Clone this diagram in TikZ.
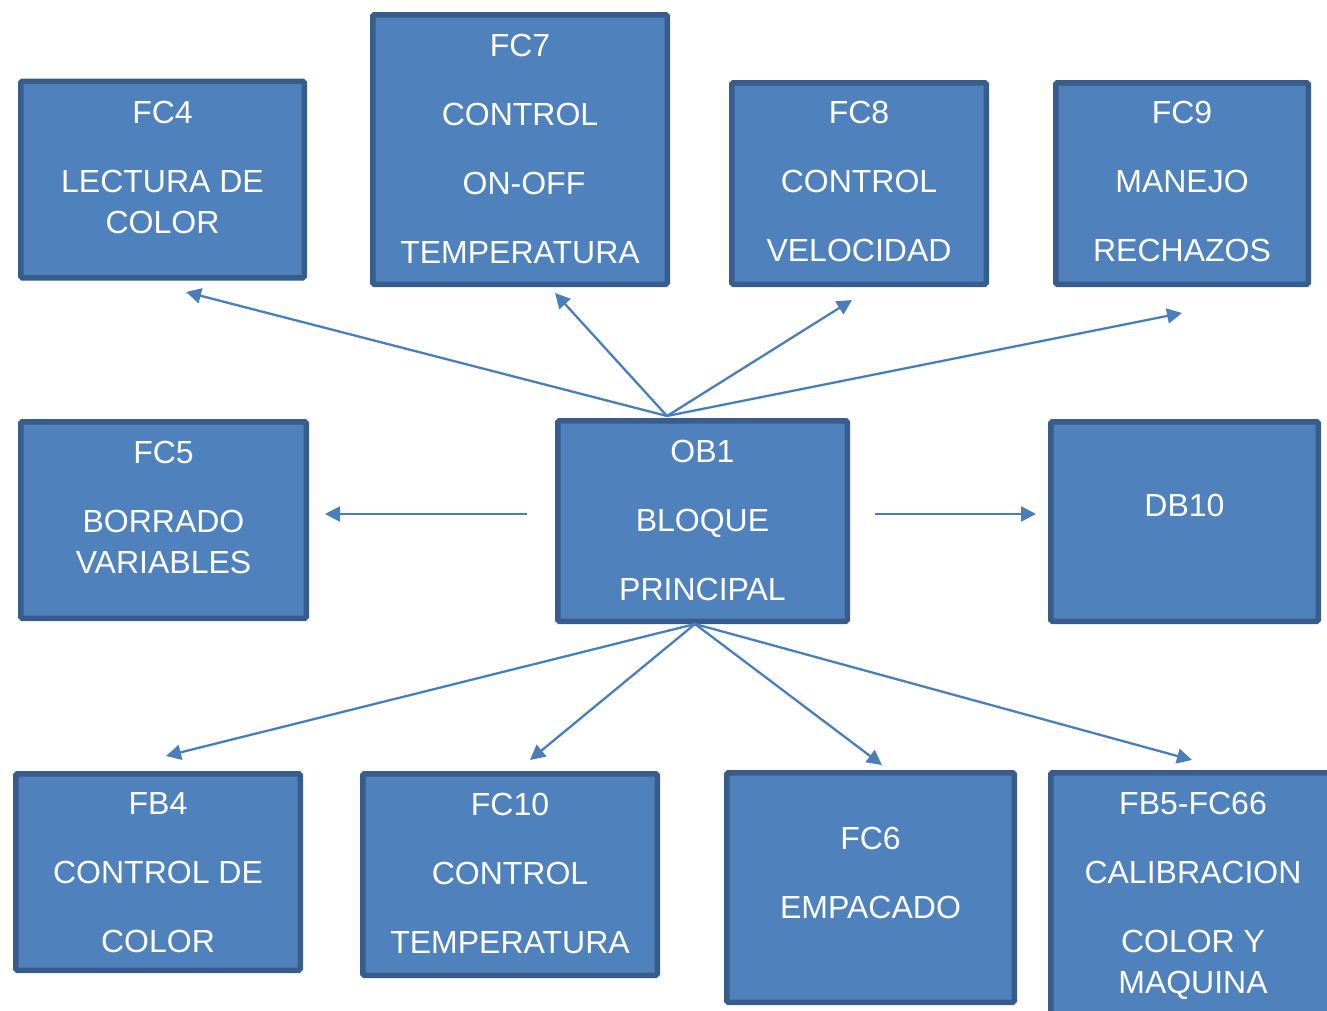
\documentclass[tikz,border=0pt]{standalone}
\usepackage{fontspec}
\setmainfont{Liberation Sans}
\usetikzlibrary{arrows.meta}
\definecolor{boxfill}{HTML}{4F81BD}
\definecolor{boxline}{HTML}{385D8A}
\definecolor{arrowblue}{HTML}{4A7EBB}

\begin{document}
\begin{tikzpicture}[x=1pt,y=-1pt,
  block/.style={draw=boxline, fill=boxfill, line width=5.5pt, rounded corners=1.5pt, inner sep=0pt},
  blocktext/.style={anchor=north, inner sep=0pt, align=center, text=white,
    font=\fontsize{32}{41}\selectfont},
  link/.style={draw=arrowblue, line width=2.3pt, -{Triangle[length=15pt,width=15pt]}}]

\useasboundingbox (0,0) rectangle (1327,1010);
\clip (0,0) rectangle (1327,1010);

% top row
\node[block, minimum width=283.5pt, minimum height=196.5pt] (fc4) at (162.5,179.5) {};
\node[block, minimum width=294.5pt, minimum height=269.5pt] (fc7) at (520,149.5) {};
\node[block, minimum width=254.5pt, minimum height=201.5pt] (fc8) at (859,183.5) {};
\node[block, minimum width=252.5pt, minimum height=201.5pt] (fc9) at (1182,183.5) {};

% middle row
\node[block, minimum width=285.5pt, minimum height=196.5pt] (fc5) at (163.5,520) {};
\node[block, minimum width=289.5pt, minimum height=200.5pt] (ob1) at (702.5,521) {};
\node[block, minimum width=267.5pt, minimum height=199.5pt] (db10) at (1184.5,521.5) {};

% bottom row
\node[block, minimum width=284.5pt, minimum height=196.5pt] (fb4) at (158,872) {};
\node[block, minimum width=294.5pt, minimum height=201.5pt] (fc10) at (510,874.5) {};
\node[block, minimum width=287.5pt, minimum height=229.5pt] (fc6) at (870.5,887.5) {};
\node[block, minimum width=284.5pt, minimum height=264.5pt] (fb5) at (1193,905) {};

% block captions
\node[blocktext] (fc4t) at (162.5,100.6) {FC4\\[28pt]LECTURA DE\\COLOR};
\node[blocktext] (fc7t) at (520,33.6) {FC7\\[28pt]CONTROL\\[28pt]\hspace*{8pt}ON-OFF\\[28pt]TEMPERATURA};
\node[blocktext] (fc8t) at (859,100.6) {FC8\\[28pt]CONTROL\\[28pt]VELOCIDAD};
\node[blocktext] (fc9t) at (1182,100.6) {FC9\\[28pt]MANEJO\\[28pt]RECHAZOS};
\node[blocktext] (fc5t) at (163.5,440.6) {FC5\\[28pt]BORRADO\\VARIABLES};
\node[blocktext] (ob1t) at (702.5,439.6) {OB1\\[28pt]BLOQUE\\[28pt]PRINCIPAL};
\node[blocktext] (db10t) at (1184.5,493.6) {DB10};
\node[blocktext] (fb4t) at (158,792.6) {FB4\\[28pt]CONTROL DE\\[28pt]COLOR};
\node[blocktext] (fc10t) at (510,792.6) {FC10\\[28pt]CONTROL\\[28pt]TEMPERATURA};
\node[blocktext] (fc6t) at (870.5,826.6) {FC6\\[28pt]EMPACADO};
\node[blocktext] (fb5t) at (1193,791.6) {FB5-FC66\\[28pt]CALIBRACION\\[28pt]COLOR Y\\MAQUINA};

% connector ends
\coordinate (hubtop) at (667,416);
\coordinate (hubbot) at (695,624);
\coordinate (hubleft) at (527,514);
\coordinate (hubright) at (875,514);
\coordinate (tofc4) at (186,292);
\coordinate (tofc7) at (555,293);
\coordinate (tofc8) at (852,300);
\coordinate (tofc9) at (1182,313);
\coordinate (tofc5) at (325,514);
\coordinate (todb10) at (1036,514);
\coordinate (tofb4) at (166,756);
\coordinate (tofc10) at (530,760);
\coordinate (tofc6) at (882,765);
\coordinate (tofb5) at (1192,760);

\draw[link] (hubtop) -- (tofc4);
\draw[link] (hubtop) -- (tofc7);
\draw[link] (hubtop) -- (tofc8);
\draw[link] (hubtop) -- (tofc9);
\draw[link] (hubleft) -- (tofc5);
\draw[link] (hubright) -- (todb10);
\draw[link] (hubbot) -- (tofb4);
\draw[link] (hubbot) -- (tofc10);
\draw[link] (hubbot) -- (tofc6);
\draw[link] (hubbot) -- (tofb5);
\end{tikzpicture}
\end{document}
